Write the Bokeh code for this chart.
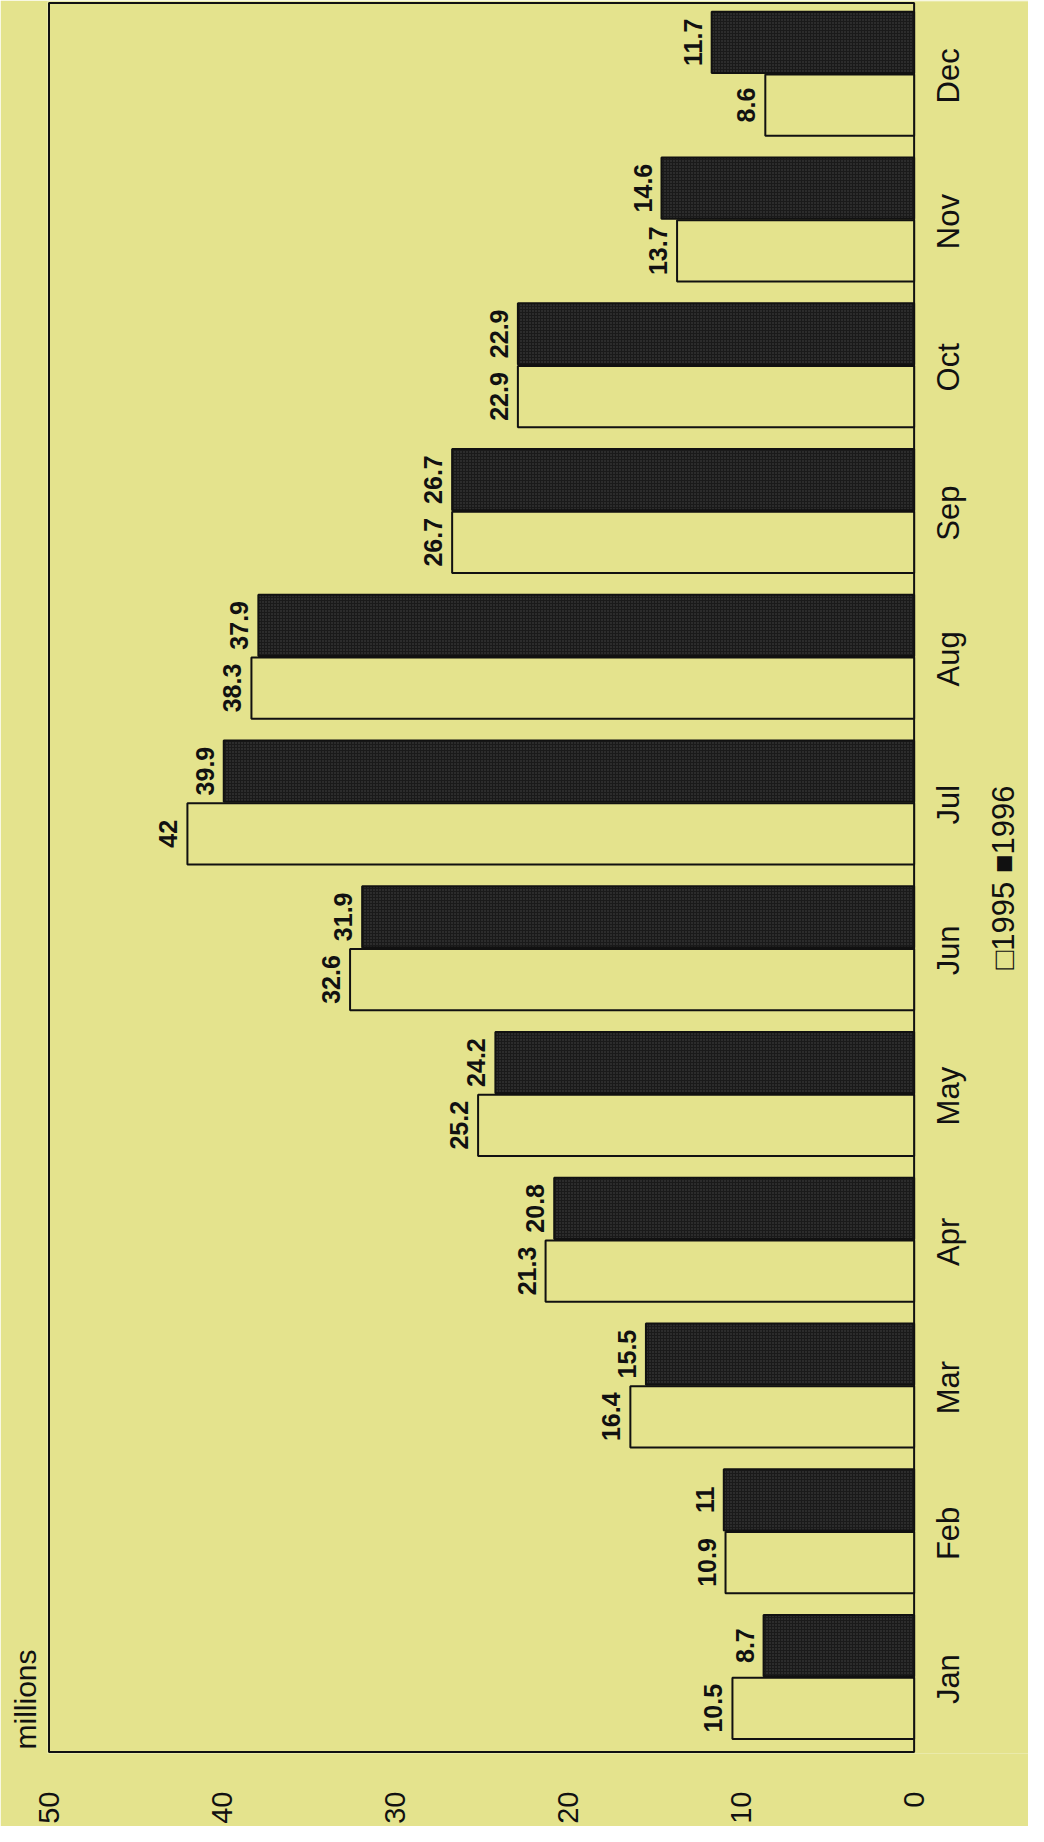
import math
from bokeh.plotting import figure
from bokeh.models import Range1d, ColumnDataSource, FixedTicker, Title
from bokeh.core.properties import value
from bokeh.embed import file_html
from bokeh.resources import INLINE

# ---- data ----
months = ["Jan", "Feb", "Mar", "Apr", "May", "Jun", "Jul", "Aug", "Sep", "Oct", "Nov", "Dec"]
v1995 = [10.5, 10.9, 16.4, 21.3, 25.2, 32.6, 42, 38.3, 26.7, 22.9, 13.7, 8.6]
v1996 = [8.7, 11, 15.5, 20.8, 24.2, 31.9, 39.9, 37.9, 26.7, 22.9, 14.6, 11.7]
value_ticks = [0, 10, 20, 30, 40, 50]
unit_label = "millions"
legend_text = "\u25a11995 \u25a01996"

# ---- style ----
BG = "#e4e38d"
DARK = "#1a1a1a"
INK = "#111111"
FONT = "Liberation Sans"
W, H = 1028, 1826
BORDER_L, BORDER_T, BORDER_B = 46, 1, 72
VALUE_PX = 866          # pixel length of the 0..50 value span
CAT_PX = 1750           # pixel length of the 12 month slots
OFF_95, OFF_96, BAR_H = -0.2, 0.23, 0.42

vmin, vmax = value_ticks[0], value_ticks[-1]
n = len(months)
upx = VALUE_PX / (vmax - vmin)
cpx = CAT_PX / n
frame_w = W - BORDER_L
x_start = vmax + 1.5 / upx
x_end = x_start - frame_w / upx          # frame continues right of 0 for the side labels
y_start = -1.5 / cpx
y_end = n + 1.5 / cpx

centers = [i + 0.5 for i in range(n)]
src = ColumnDataSource(dict(
    month=months,
    yc=centers,
    y95=[c + OFF_95 for c in centers],
    y96=[c + OFF_96 for c in centers],
    v1995=v1995,
    v1996=v1996,
    t1995=[f"{v:g}" for v in v1995],
    t1996=[f"{v:g}" for v in v1996],
))

p = figure(
    width=W, height=H,
    x_range=Range1d(x_start, x_end),
    y_range=Range1d(y_start, y_end),
    y_axis_location=None,
    output_backend="svg", toolbar_location=None,
    min_border_left=BORDER_L, min_border_right=0,
    min_border_top=BORDER_T, min_border_bottom=BORDER_B,
)

p.background_fill_color = BG
p.border_fill_color = BG
p.outline_line_color = None
p.xgrid.grid_line_color = None
p.ygrid.grid_line_color = None

# plot box spanning the value range and all months
p.quad(left=vmin, right=vmax, bottom=0, top=n, fill_color=None,
       line_color=INK, line_width=2)

p.hbar(y="y95", left=0, right="v1995", height=BAR_H, fill_color=BG,
       line_color=INK, line_width=2, source=src)
p.hbar(y="y96", left=0, right="v1996", height=BAR_H, fill_color=DARK,
       line_color=INK, line_width=2, hatch_pattern="dot", hatch_color="#444444",
       hatch_scale=3, hatch_weight=1, source=src)

common = dict(angle=math.pi / 2, text_align="center", text_baseline="alphabetic",
              x_offset=-19, text_font=value(FONT), text_font_style="bold",
              text_font_size="25px", text_color=INK, source=src)
p.text(x="v1995", y="y95", text="t1995", **common)
p.text(x="v1996", y="y96", text="t1996", **common)

# month labels, centred on each group, just right of the zero line
p.text(x=vmin, y="yc", text="month", angle=math.pi / 2, text_align="center",
       text_baseline="top", x_offset=17, text_font=value(FONT),
       text_font_size="31px", text_color=INK, source=src)

# legend, centred vertically, right of the month labels
p.text(x=[vmin], y=[n / 2], text=[legend_text], angle=math.pi / 2, text_align="center",
       text_baseline="top", x_offset=72, text_font=value(FONT),
       text_font_size="31px", text_color=INK)

# value axis (bottom)
xa = p.xaxis[0]
xa.ticker = FixedTicker(ticks=value_ticks)
xa.major_label_orientation = math.pi / 2
xa.major_label_text_font = FONT
xa.major_label_text_font_size = "29px"
xa.major_label_text_color = INK
xa.major_label_standoff = 38
xa.axis_line_color = None
xa.major_tick_line_color = None
xa.minor_tick_line_color = None
xa.major_tick_out = 0
xa.minor_tick_out = 0
xa.major_tick_in = 0
xa.minor_tick_in = 0

# unit label on the left, reading upward from the bottom of the frame
p.add_layout(Title(text=unit_label, align="left", offset=4, standoff=12,
                   text_font=FONT, text_font_size="30px", text_font_style="normal",
                   text_color=INK), "left")

open("out.html", "w").write(file_html(p, INLINE))
